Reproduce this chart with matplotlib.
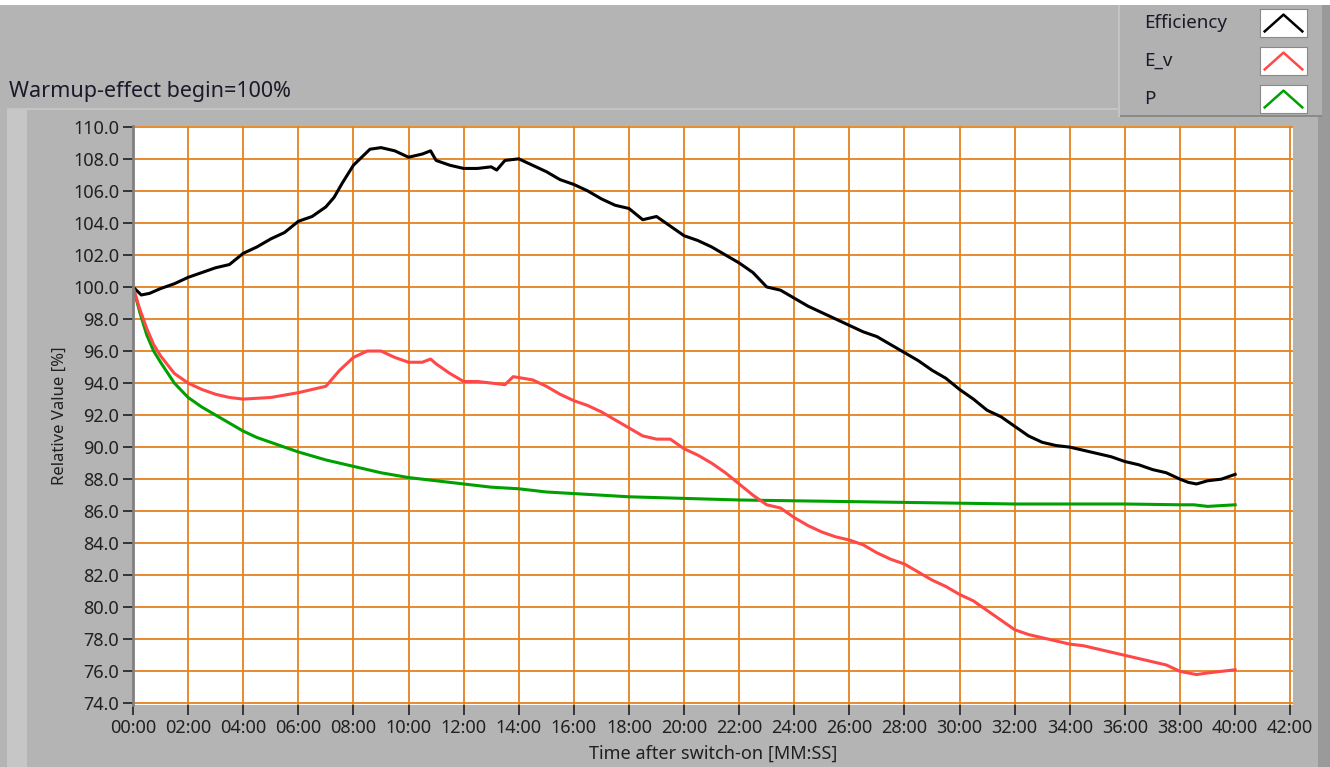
import matplotlib
matplotlib.use("Agg")
import matplotlib.pyplot as plt
from matplotlib.patches import Rectangle
from matplotlib.ticker import FuncFormatter, MultipleLocator

plt.rcParams['font.family'] = ['Noto Sans', 'DejaVu Sans']

# minutes after switch-on
t_eff = [0, 0.3, 0.6, 1, 1.5, 2, 2.5, 3, 3.5, 4, 4.5, 5, 5.5, 6, 6.5, 7, 7.3, 7.6,
         8, 8.3, 8.6, 9, 9.5, 10, 10.5, 10.8, 11, 11.5, 12, 12.5, 13, 13.2, 13.5,
         14, 14.5, 15, 15.5, 16, 16.5, 17, 17.5, 18, 18.5, 19, 19.5, 20, 20.5, 21,
         21.5, 22, 22.5, 23, 23.5, 24, 24.5, 25, 25.5, 26, 26.5, 27, 27.5, 28,
         28.5, 29, 29.5, 30, 30.5, 31, 31.5, 32, 32.5, 33, 33.5, 34, 34.5, 35,
         35.5, 36, 36.5, 37, 37.5, 38, 38.3, 38.6, 39, 39.5, 40]
efficiency = [100.0, 99.5, 99.6, 99.9, 100.2, 100.6, 100.9, 101.2, 101.4, 102.1, 102.5,
              103.0, 103.4, 104.1, 104.4, 105.0, 105.6, 106.5, 107.6, 108.1, 108.6,
              108.7, 108.5, 108.1, 108.3, 108.5, 107.9, 107.6, 107.4, 107.4, 107.5,
              107.3, 107.9, 108.0, 107.6, 107.2, 106.7, 106.4, 106.0, 105.5, 105.1,
              104.9, 104.2, 104.4, 103.8, 103.2, 102.9, 102.5, 102.0, 101.5, 100.9,
              100.0, 99.8, 99.3, 98.8, 98.4, 98.0, 97.6, 97.2, 96.9, 96.4, 95.9,
              95.4, 94.8, 94.3, 93.6, 93.0, 92.3, 91.9, 91.3, 90.7, 90.3, 90.1, 90.0,
              89.8, 89.6, 89.4, 89.1, 88.9, 88.6, 88.4, 88.0, 87.8, 87.7, 87.9,
              88.0, 88.3]

t_ev = [0, 0.25, 0.5, 0.75, 1, 1.5, 2, 2.5, 3, 3.5, 4, 5, 6, 6.5, 7, 7.5, 8, 8.5,
        9, 9.5, 10, 10.5, 10.8, 11, 11.5, 12, 12.5, 13, 13.5, 13.8, 14.5, 15, 15.5,
        16, 16.5, 17, 17.5, 18, 18.5, 19, 19.5, 20, 20.5, 21, 21.5, 22, 22.5, 23,
        23.5, 24, 24.5, 25, 25.5, 26, 26.5, 27, 27.5, 28, 28.5, 29, 29.5, 30,
        30.5, 31, 31.5, 32, 32.5, 33, 33.5, 34, 34.5, 35, 35.5, 36, 36.5, 37,
        37.5, 38, 38.6, 39, 39.5, 40]
e_v = [100.0, 98.6, 97.4, 96.4, 95.7, 94.6, 94.0, 93.6, 93.3, 93.1, 93.0, 93.1,
       93.4, 93.6, 93.8, 94.8, 95.6, 96.0, 96.0, 95.6, 95.3, 95.3, 95.5, 95.2, 94.6,
       94.1, 94.1, 94.0, 93.9, 94.4, 94.2, 93.8, 93.3, 92.9, 92.6, 92.2, 91.7,
       91.2, 90.7, 90.5, 90.5, 89.9, 89.5, 89.0, 88.4, 87.7, 87.0, 86.4, 86.2,
       85.6, 85.1, 84.7, 84.4, 84.2, 83.9, 83.4, 83.0, 82.7, 82.2, 81.7, 81.3,
       80.8, 80.4, 79.8, 79.2, 78.6, 78.3, 78.1, 77.9, 77.7, 77.6, 77.4, 77.2,
       77.0, 76.8, 76.6, 76.4, 76.0, 75.8, 75.9, 76.0, 76.1]

t_p = [0, 0.25, 0.5, 0.75, 1, 1.5, 2, 2.5, 3, 3.5, 4, 4.5, 5, 6, 7, 8, 9, 10, 11,
       12, 13, 14, 15, 16, 17, 18, 19, 20, 22, 24, 26, 28, 30, 32, 34, 36, 38,
       38.5, 39, 39.5, 40]
p = [100.0, 98.4, 97.0, 96.0, 95.3, 94.0, 93.1, 92.5, 92.0, 91.5, 91.0, 90.6,
     90.3, 89.7, 89.2, 88.8, 88.4, 88.1, 87.9, 87.7, 87.5, 87.4, 87.2, 87.1,
     87.0, 86.9, 86.85, 86.8, 86.7, 86.65, 86.6, 86.55, 86.5, 86.45, 86.45,
     86.45, 86.4, 86.4, 86.3, 86.35, 86.4]

W, H = 1330, 767
fig = plt.figure(figsize=(W / 100, H / 100), dpi=100, facecolor='white')


def px_rect(x0, y0, x1, y1, color, z=0):
    fig.add_artist(Rectangle((x0 / W, 1 - y1 / H), (x1 - x0) / W, (y1 - y0) / H,
                             transform=fig.transFigure, facecolor=color,
                             edgecolor='none', zorder=z))


# LabVIEW style panel background
px_rect(0, 5, 1330, 767, '#b4b4b4')
px_rect(1318, 5, 1330, 767, '#9a9a9a')
px_rect(7, 108, 1118, 110, '#c4c4c4')
px_rect(7, 110, 27, 767, '#c6c6c6')
px_rect(1120, 5, 1322, 117, '#b1b1b1', z=1)
px_rect(1118, 115, 1322, 117, '#8a8a8a', z=2)
px_rect(1118, 5, 1120, 117, '#c4c4c4', z=2)

ax = fig.add_axes([133 / W, 1 - 705 / H, (1293 - 133) / W, (705 - 126) / H])
ax.set_facecolor('white')
ax.set_xlim(0, 42.1)
ax.set_ylim(73.9, 110.05)
ax.xaxis.set_major_locator(MultipleLocator(2))
ax.yaxis.set_major_locator(MultipleLocator(2))
ax.xaxis.set_major_formatter(FuncFormatter(lambda v, pos: '%02d:00' % round(v)))
ax.yaxis.set_major_formatter(FuncFormatter(lambda v, pos: '%.1f' % v))
ax.grid(True, color='#e3821f', linewidth=1.3)
ax.set_axisbelow(True)
ax.tick_params(direction='out', length=7, width=1.2, colors='#202020',
               labelsize=13, pad=3)
for s in ['top', 'right', 'bottom']:
    ax.spines[s].set_visible(False)
ax.spines['left'].set_color('#808080')
ax.spines['left'].set_linewidth(2)

ax.plot(t_eff, efficiency, color='black', lw=2.2)
ax.plot(t_p, p, color='#00a000', lw=2.2)
ax.plot(t_ev, e_v, color='#ff4848', lw=2.2)

ax.set_ylabel('Relative Value [%]', fontsize=12, color='#202020', labelpad=4)
ax.set_xlabel('Time after switch-on [MM:SS]', fontsize=13, color='#202020',
              labelpad=6)

fig.text(9 / W, 1 - 91 / H, 'Warmup-effect begin=100%', fontsize=15.5,
         color='#1a1a2a', va='center', ha='left')

# legend panel
names = ['Efficiency', 'E_v', 'P']
colors = ['black', '#ff4848', '#00a000']
for i, (name, c) in enumerate(zip(names, colors)):
    yc = 23 + i * 38
    fig.text(1144 / W, 1 - yc / H, name, fontsize=13.5, color='#1a1a2a',
             va='center', ha='left', zorder=3)
    lax = fig.add_axes([1260 / W, 1 - (yc + 14) / H, 47 / W, 28 / H], zorder=3)
    lax.set_facecolor('white')
    lax.set_xlim(0, 1)
    lax.set_ylim(0, 1)
    lax.set_xticks([])
    lax.set_yticks([])
    for s in lax.spines.values():
        s.set_color('#8a8a8a')
    lax.plot([0.1, 0.5, 0.9], [0.2, 0.8, 0.2], color=c, lw=1.8)

fig.savefig('out.png', dpi=100, facecolor='white')
